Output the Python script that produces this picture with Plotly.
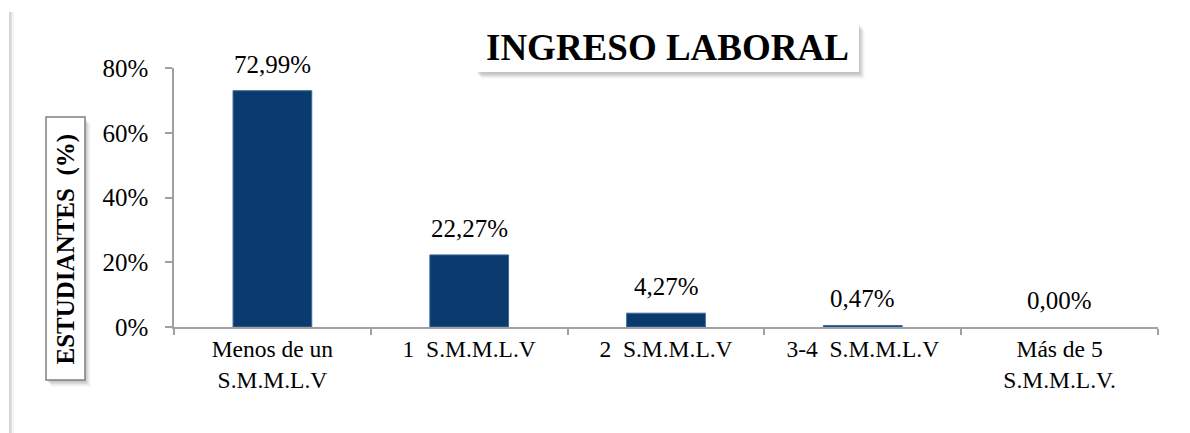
import plotly.graph_objects as go

# Income categories and share of students (%)
categorias = [
    "Menos de un<br>S.M.M.L.V",
    "1\u00a0\u00a0S.M.M.L.V",
    "2\u00a0\u00a0S.M.M.L.V",
    "3-4\u00a0\u00a0S.M.M.L.V",
    "Más de 5<br>S.M.M.L.V.",
]
porcentajes = [72.99, 22.27, 4.27, 0.47, 0.00]
ticks_y = [0, 20, 40, 60, 80]
titulo = "INGRESO LABORAL"
titulo_y = "ESTUDIANTES\u00a0\u00a0(%)"

W, H = 1190, 433
ML, MR, MT, MB = 174, 32, 68, 106
PW, PH = W - ML - MR, H - MT - MB

FONT = "Liberation Serif, Times New Roman, serif"
AXIS = "#a0a0a0"
NAVY = "#0b3a6f"


def px(x):
    return (x - ML) / PW


def py(y):
    return (H - MB - y) / PH


def box_with_shadow(x0, y0, x1, y1, border=None):
    shapes = []
    for i, a in enumerate([0.05, 0.05, 0.05, 0.04, 0.03, 0.02]):
        shapes.append(dict(type="rect", xref="paper", yref="paper",
                           x0=px(x0 + 1 + i), x1=px(x1 + 1 + i),
                           y0=py(y0 + 2 + i), y1=py(y1 + 2 + i),
                           line=dict(width=0), fillcolor=f"rgba(0,0,0,{a})"))
    shapes.append(dict(type="rect", xref="paper", yref="paper",
                       x0=px(x0), x1=px(x1), y0=py(y0), y1=py(y1),
                       line=dict(width=1.5 if border else 0, color=border or "white"),
                       fillcolor="white"))
    return shapes


fig = go.Figure()
fig.add_trace(go.Bar(
    x=categorias, y=porcentajes,
    marker=dict(color=NAVY,
                line=dict(color="#3a6a9e",
                          width=[1 if v > 0 else 0 for v in porcentajes])),
    hoverinfo="skip",
))

shapes = []
# chart frame edge on the left
for dx, c in [(0, "#c4c4c4"), (1.5, "#e2e2e2"), (3, "#f0f0f0")]:
    shapes.append(dict(type="line", xref="paper", yref="paper",
                       x0=px(10 + dx), x1=px(10 + dx), y0=py(12), y1=py(H + 2),
                       line=dict(color=c, width=1.5)))
shapes += box_with_shadow(476, 23, 859, 72)
shapes += box_with_shadow(46, 117, 85, 380, border="#808080")

annotations = [
    dict(xref="paper", yref="paper", x=px(667), y=py(47.5),
         text=f"<b>{titulo}</b>", showarrow=False,
         xanchor="center", yanchor="middle",
         font=dict(family=FONT, size=37, color="black")),
    dict(xref="paper", yref="paper", x=px(65.5), y=py(249),
         text=f"<b>{titulo_y}</b>", showarrow=False, textangle=-90,
         xanchor="center", yanchor="middle",
         font=dict(family=FONT, size=25, color="black")),
]
for c, v in zip(categorias, porcentajes):
    annotations.append(dict(
        x=c, y=v, xref="x", yref="y",
        text=f"{v:.2f}".replace(".", ",") + "%",
        showarrow=False, xanchor="center", yanchor="bottom", yshift=11,
        font=dict(family=FONT, size=25, color="black"),
    ))

fig.update_layout(
    width=W, height=H, autosize=False,
    margin=dict(l=ML, r=MR, t=MT, b=MB, pad=0),
    paper_bgcolor="white", plot_bgcolor="white",
    bargap=0.6, showlegend=False,
    shapes=shapes, annotations=annotations,
    font=dict(family=FONT, size=24, color="black"),
)
fig.update_xaxes(
    type="category", range=[-0.5, 4.5],
    showline=True, linecolor=AXIS, linewidth=1.5,
    ticks="outside", tickson="boundaries", ticklen=6, tickcolor=AXIS, tickwidth=1.5,
    tickfont=dict(family=FONT, size=23.5, color="black"),
    showgrid=False, zeroline=False, fixedrange=True,
)
fig.update_yaxes(
    range=[0, 80], tickvals=ticks_y, ticktext=[f"{t}%" for t in ticks_y],
    showline=True, linecolor=AXIS, linewidth=1.5,
    ticks="outside", ticklen=7, tickcolor=AXIS, tickwidth=1.5,
    ticklabelstandoff=12,
    tickfont=dict(family=FONT, size=25, color="black"),
    showgrid=False, zeroline=False, fixedrange=True,
)

fig.write_html("out.html", config={"displayModeBar": False})
